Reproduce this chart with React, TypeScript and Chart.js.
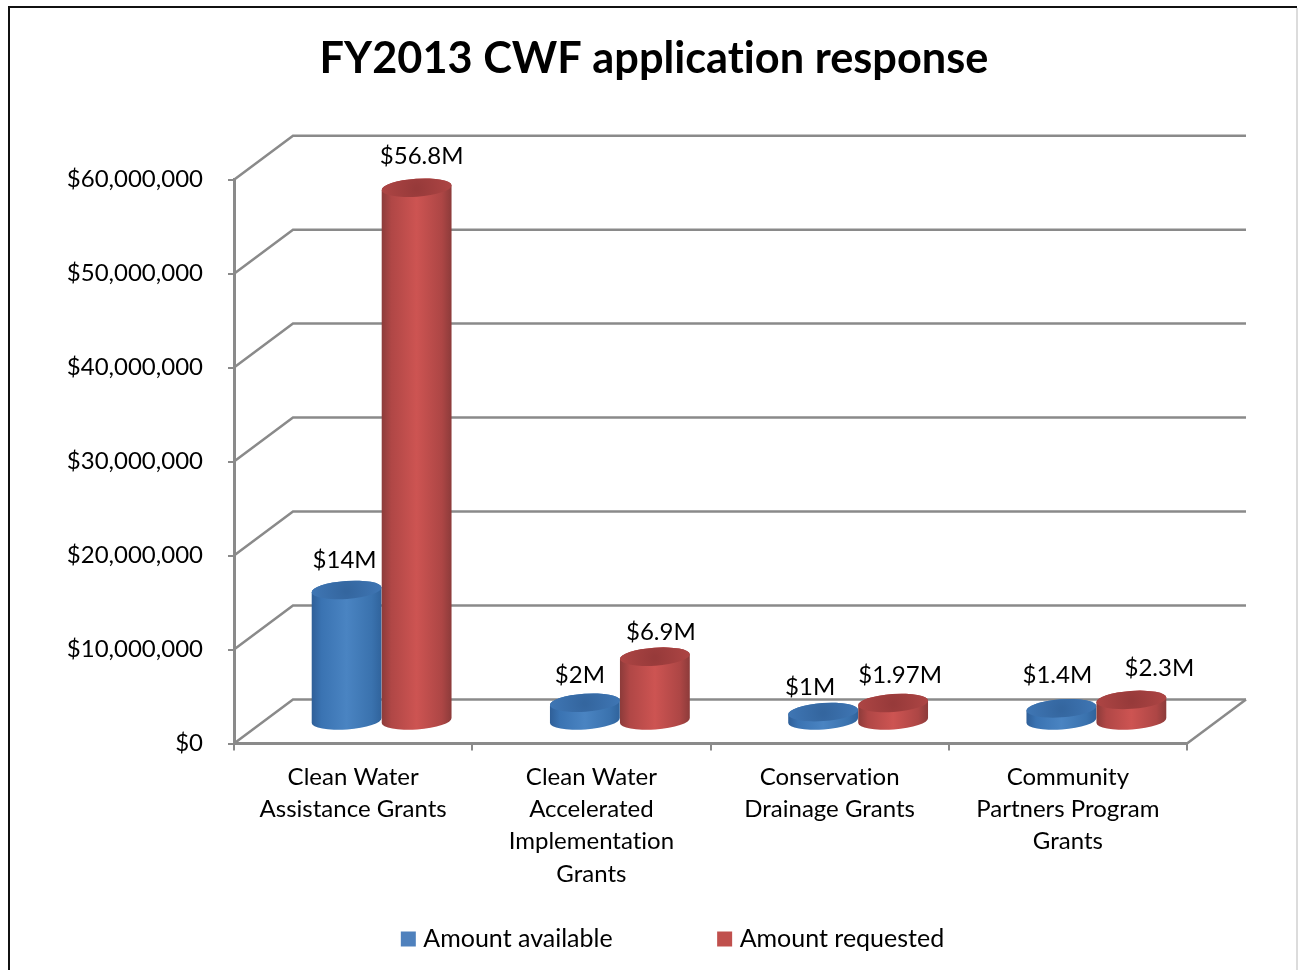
import React, { useEffect, useRef } from "react";
import { Chart, registerables } from "chart.js";

Chart.register(...registerables);

const categories: string[][] = [
  ["Clean Water", "Assistance Grants"],
  ["Clean Water", "Accelerated", "Implementation", "Grants"],
  ["Conservation", "Drainage Grants"],
  ["Community", "Partners Program", "Grants"],
];
const amountAvailable = [14000000, 2000000, 1000000, 1400000];
const amountRequested = [56800000, 6900000, 1970000, 2300000];
const availableLabels = ["$14M", "$2M", "$1M", "$1.4M"];
const requestedLabels = ["$56.8M", "$6.9M", "$1.97M", "$2.3M"];
const availableLabelNudge = [[-2, -30], [-5, -27], [-13, -25], [-4, -33]];
const requestedLabelNudge = [[5, -31], [6, -24], [7, -28], [28, -32]];

const FONT = "Lato, Carlito, Calibri, sans-serif";
const DEPTH_X = 59;
const DEPTH_Y = 44;
const BAR_SHIFT = DEPTH_X / 2 - 1;
const GRID = "#8a8a8a";

const seriesStyle = [
  { stops: ["#2f5f98", "#3a73b2", "#4a84c2", "#3a72ae", "#30639c"], top: "#3f76b4", topDark: "#34669f" },
  { stops: ["#8c3b3a", "#b04746", "#cd5452", "#ad4645", "#8c3b3a"], top: "#ad4544", topDark: "#973a3a" },
];

function cylinder(ctx: CanvasRenderingContext2D, cx: number, yTop: number, yBase: number, rx: number, st: any) {
  const ry = 9;
  const rot = -0.07;
  const g = ctx.createLinearGradient(cx - rx, 0, cx + rx, 0);
  const pos = [0, 0.14, 0.5, 0.86, 1];
  st.stops.forEach((c: string, i: number) => g.addColorStop(pos[i], c));
  ctx.beginPath();
  ctx.ellipse(cx, yBase, rx, ry, rot, 0, Math.PI, false);
  const lx = cx - rx * Math.cos(rot);
  const ly = yTop - rx * Math.sin(rot);
  ctx.lineTo(lx, ly);
  ctx.ellipse(cx, yTop, rx, ry, rot, Math.PI, Math.PI * 2, false);
  ctx.closePath();
  ctx.fillStyle = g;
  ctx.fill();
  const t = ctx.createRadialGradient(cx, yTop + 1, 2, cx, yTop, rx);
  t.addColorStop(0, st.topDark);
  t.addColorStop(1, st.top);
  ctx.beginPath();
  ctx.ellipse(cx, yTop, rx, ry, rot, 0, Math.PI * 2);
  ctx.fillStyle = t;
  ctx.fill();
}

const scene = {
  id: "scene",
  afterLayout(chart: any) {
    const lg = chart.legend;
    lg.left = 10 + 21;
    lg.right = chart.width + 21;
    lg.top = 817;
    lg.bottom = chart.height;
    const tl = chart.titleBlock;
    tl.left = 10;
    tl.right = chart.width;
    const x = chart.scales.x;
    x.bottom = 900;
  },
  beforeDraw(chart: any) {
    const { ctx, width, height } = chart;
    ctx.textRendering = "optimizeSpeed";
    ctx.save();
    ctx.fillStyle = "#ffffff";
    ctx.fillRect(0, 0, width, height);
    ctx.strokeStyle = "#dcdcdc";
    ctx.lineWidth = 2;
    ctx.beginPath();
    ctx.moveTo(1297, 8);
    ctx.lineTo(1297, height);
    ctx.stroke();
    ctx.strokeStyle = "#111111";
    ctx.beginPath();
    ctx.moveTo(9, height);
    ctx.lineTo(9, 7);
    ctx.lineTo(1297, 7);
    ctx.stroke();
    ctx.restore();
  },
  beforeDatasetsDraw(chart: any) {
    const { ctx, scales } = chart;
    const area = chart.chartArea;
    ctx.save();
    ctx.strokeStyle = GRID;
    ctx.lineWidth = 2.5;
    scales.y.ticks.forEach((t: any) => {
      const y = scales.y.getPixelForValue(t.value);
      ctx.beginPath();
      ctx.moveTo(area.left, y);
      ctx.lineTo(area.left + DEPTH_X, y - DEPTH_Y);
      ctx.lineTo(area.right + DEPTH_X, y - DEPTH_Y);
      ctx.stroke();
    });
    ctx.beginPath();
    ctx.moveTo(area.right, area.bottom);
    ctx.lineTo(area.right + DEPTH_X, area.bottom - DEPTH_Y);
    ctx.stroke();
    ctx.restore();
  },
  beforeDatasetDraw() {
    return false;
  },
  afterDatasetsDraw(chart: any) {
    const { ctx } = chart;
    ctx.save();
    chart.data.datasets.forEach((_: any, di: number) => {
      chart.getDatasetMeta(di).data.forEach((bar: any) => {
        const p = bar.getProps(["x", "y", "base", "width"], true);
        cylinder(ctx, p.x + BAR_SHIFT, p.y - DEPTH_Y / 2, p.base - DEPTH_Y / 2, p.width / 2, seriesStyle[di]);
      });
    });
    const texts = [availableLabels, requestedLabels];
    const nudges = [availableLabelNudge, requestedLabelNudge];
    ctx.font = `24px ${FONT}`;
    ctx.fillStyle = "#000000";
    ctx.textAlign = "center";
    ctx.textBaseline = "middle";
    chart.data.datasets.forEach((_: any, di: number) => {
      chart.getDatasetMeta(di).data.forEach((bar: any, i: number) => {
        const p = bar.getProps(["x", "y"], true);
        ctx.fillText(
          texts[di][i],
          p.x + BAR_SHIFT + nudges[di][i][0],
          p.y - DEPTH_Y / 2 + nudges[di][i][1]
        );
      });
    });
    ctx.restore();
  },
};

export default function App() {
  const ref = useRef<HTMLCanvasElement>(null);
  useEffect(() => {
    const chart = new Chart(ref.current as HTMLCanvasElement, {
      type: "bar",
      data: {
        labels: categories as any,
        datasets: [
          { label: "Amount available", data: amountAvailable, backgroundColor: "#4f81bd", borderColor: "#4f81bd", borderWidth: 10 },
          { label: "Amount requested", data: amountRequested, backgroundColor: "#c0504d", borderColor: "#c0504d", borderWidth: 10 },
        ],
      },
      plugins: [scene],
      options: {
        animation: false,
        responsive: false,
        events: [],
        layout: { padding: { left: 10, right: 111, top: 0, bottom: 0 } },
        datasets: { bar: { categoryPercentage: 0.5876, barPercentage: 1 } },
        scales: {
          x: {
            offset: true,
            afterFit: (s: any) => { s.height = 138.5; },
            grid: { drawOnChartArea: false, color: GRID, lineWidth: 2, tickLength: 7, offset: true },
            border: { color: GRID, width: 3 },
            ticks: {
              autoSkip: false,
              maxRotation: 0,
              minRotation: 0,
              color: "#000000",
              padding: 10.5,
              font: { family: FONT, size: 24, lineHeight: 1.346 },
            },
          },
          y: {
            min: 0,
            max: 60000000,
            afterFit: (s: any) => { s.width = 224; },
            grid: { drawOnChartArea: false, color: GRID, lineWidth: 2, tickLength: 6 },
            border: { color: GRID, width: 3 },
            ticks: {
              stepSize: 10000000,
              color: "#000000",
              padding: 25,
              font: { family: FONT, size: 24 },
              callback: (v: any) => "$" + Number(v).toLocaleString("en-US"),
            },
          },
        },
        plugins: {
          tooltip: { enabled: false },
          title: {
            display: true,
            text: "FY2013 CWF application response",
            color: "#000000",
            font: { family: FONT, size: 43.3, weight: "bold", lineHeight: 1.2 },
            padding: { top: 33.5, bottom: 94.2 },
          },
          legend: {
            display: true,
            position: "bottom",
            maxHeight: 88,
            labels: {
              boxWidth: 5,
              boxHeight: 5,
              padding: 109.5,
              color: "#000000",
              font: { family: FONT, size: 25 },
            },
          },
        },
      } as any,
    });
    return () => chart.destroy();
  }, []);
  return (
    <canvas
      ref={ref}
      width={1298}
      height={970}
      style={{ display: "block", position: "absolute", left: 0, top: 0 }}
    />
  );
}
